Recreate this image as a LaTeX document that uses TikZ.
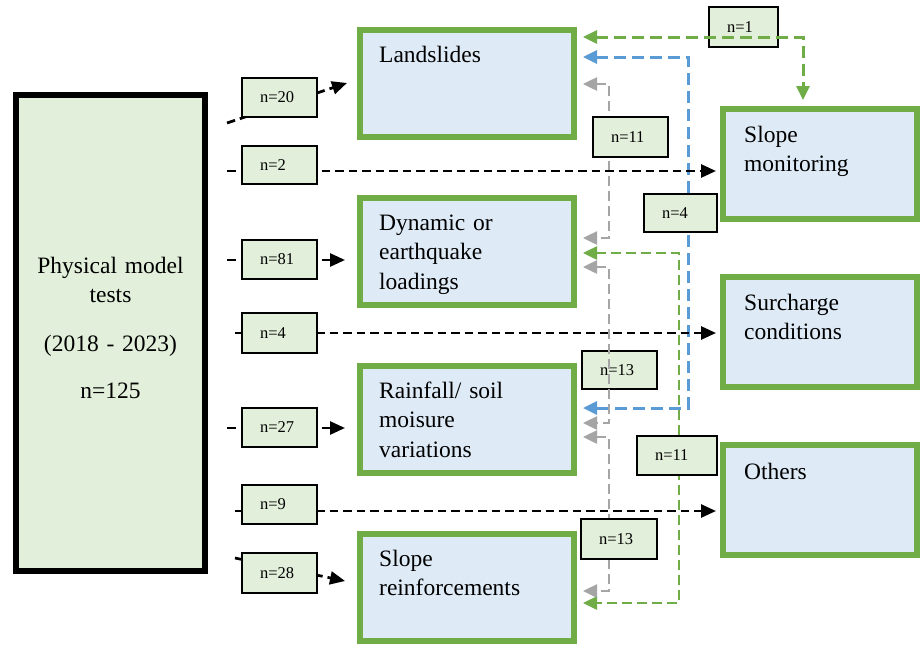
\documentclass[tikz,border=0pt]{standalone}
\usepackage{fontspec}
\setmainfont{Liberation Serif}
\usetikzlibrary{arrows.meta,calc}
\definecolor{lgreen}{HTML}{E2EFDA}
\definecolor{lblue}{HTML}{DEEBF7}
\definecolor{bgreen}{HTML}{70AD47}
\definecolor{cblue}{HTML}{5B9BD5}
\definecolor{cgray}{HTML}{A5A5A5}
\begin{document}
\begin{tikzpicture}[x=1pt,y=-1pt,
  bigfont/.style={font=\fontsize{23.5}{29.5}\selectfont},
  srcbox/.style={draw=black, line width=6pt, fill=lgreen, minimum width=189pt, minimum height=476pt, inner sep=0pt},
  topicbox/.style={draw=bgreen, line width=6pt, fill=lblue, minimum width=214pt, minimum height=107pt, inner sep=0pt},
  sidebox/.style={draw=bgreen, line width=6pt, fill=lblue, minimum width=194pt, minimum height=110pt, inner sep=0pt},
  boxtext/.style={bigfont, anchor=base west, text width=185pt, align=left, inner sep=0pt},
  cnt/.style={draw=black, line width=1.5pt, fill=lgreen, font=\fontsize{16.5}{19}\selectfont, align=left, inner xsep=18pt, inner ysep=0pt},
  blackarrow/.style={line width=2.7pt, dash pattern=on 8.5pt off 5pt, -{Triangle[length=15pt,width=13pt]}},
  bothtips/.style={{Triangle[length=14pt,width=13pt]}-{Triangle[length=14pt,width=13pt]}},
  greenthick/.style={bothtips, draw=bgreen, line width=3pt, dash pattern=on 11.5pt off 6.5pt},
  bluethick/.style={bothtips, draw=cblue, line width=3pt, dash pattern=on 11.5pt off 6.5pt},
  greenthin/.style={bothtips, draw=bgreen, line width=2.5pt, dash pattern=on 9.5pt off 5.5pt},
  graythin/.style={bothtips, draw=cgray, line width=2.5pt, dash pattern=on 9.5pt off 5.5pt},
]
\fill[white] (0,0) rectangle (920,648);
\useasboundingbox (0,0) rectangle (920,648);

% main boxes
\node[srcbox] (src) at (110.5,333) {};
\node[bigfont, anchor=base, text width=180pt, align=center, inner sep=0pt] (srctext) at (110.5,273)
  {Physical model\\ tests\\[19pt] (2018 - 2023)\\[18pt] n=125};

\node[topicbox] (land) at (467,83.5) {};
\node[topicbox] (dyn) at (467,251.5) {};
\node[topicbox] (rain) at (467,419.5) {};
\node[topicbox] (sr) at (467,587.5) {};
\node[sidebox] (mon) at (820,164) {};
\node[sidebox] (sur) at (820,332) {};
\node[sidebox] (oth) at (820,500) {};

\node[boxtext] (landtext) at (379,62) {Landslides};
\node[boxtext] (dyntext) at (379,230) {Dynamic or\\ earthquake\\ loadings};
\node[boxtext] (raintext) at (379,398) {Rainfall/ soil\\ moisure\\ variations};
\node[boxtext] (srtext) at (379,566) {Slope\\ reinforcements};
\node[boxtext, text width=165pt] (montext) at (744,142) {Slope\\ monitoring};
\node[boxtext, text width=165pt] (surtext) at (744,310) {Surcharge\\ conditions};
\node[boxtext, text width=165pt] (othtext) at (744,479) {Others};

% label under the green line
\node[cnt, text width=33pt, minimum height=40pt] (n1) at (743.5,27) {n=1};

% coloured two-way connectors
\draw[greenthick] ($(land.east|-0,37)+(6,0)$) -| ($(mon.north-|803,0)+(0,-6)$);
\draw[bluethick] ($(land.east|-0,57)+(6,0)$) -| (688,408) -- ($(rain.east|-0,408)+(6,0)$);
\draw[graythin] ($(land.east|-0,84)+(6,0)$) -| (609,238) -- ($(dyn.east|-0,238)+(6,0)$);
\draw[greenthin] ($(dyn.east|-0,253)+(6,0)$) -| (679,603) -- ($(sr.east|-0,603)+(6,0)$);
\draw[graythin] ($(rain.east|-0,437)+(6,0)$) -| (609,591) -- ($(sr.east|-0,591)+(6,0)$);

% black connectors
\coordinate (s20) at (227,123);
\coordinate (t20) at (347,83);
\coordinate (s2) at (227,171);
\coordinate (s81) at (227,260);
\coordinate (s4) at (235,333);
\coordinate (s27) at (227,428);
\coordinate (s9) at (235,511);
\coordinate (s28) at (235,558);
\coordinate (t28) at (345,581);
\draw[blackarrow] (s20) -- (t20);
\draw[blackarrow, shorten >=4pt] (s2) -- (s2 -| mon.west);
\draw[blackarrow, shorten >=12pt] (s81) -- (s81 -| dyn.west);
\draw[blackarrow, shorten >=4pt] (s4) -- (s4 -| sur.west);
\draw[blackarrow, shorten >=12pt] (s27) -- (s27 -| rain.west);
\draw[blackarrow, shorten >=4pt] (s9) -- (s9 -| oth.west);
\draw[blackarrow] (s28) -- (t28);

% count labels
\node[cnt, text width=39pt, minimum height=39pt] (n20) at (279.5,97.5) {n=20};
\node[cnt, text width=39pt, minimum height=38pt] (n2) at (279.5,165) {n=2};
\node[cnt, text width=39pt, minimum height=39pt] (n81) at (279.5,259.5) {n=81};
\node[cnt, text width=39pt, minimum height=40pt] (n4a) at (279.5,333) {n=4};
\node[cnt, text width=39pt, minimum height=39pt] (n27) at (279.5,427.5) {n=27};
\node[cnt, text width=39pt, minimum height=39pt] (n9) at (279.5,504.5) {n=9};
\node[cnt, text width=39pt, minimum height=40pt] (n28) at (279.5,573) {n=28};
\node[cnt, text width=39pt, minimum height=40pt] (n11a) at (630.5,137) {n=11};
\node[cnt, text width=37pt, minimum height=38pt] (n4b) at (680.5,213) {n=4};
\node[cnt, text width=39pt, minimum height=38pt] (n13a) at (619.5,370) {n=13};
\node[cnt, text width=44pt, minimum height=39pt] (n11b) at (677,455.5) {n=11};
\node[cnt, text width=40pt, minimum height=40pt] (n13b) at (619,539) {n=13};

% gray connector drawn over its label
\draw[graythin] ($(dyn.east|-0,267)+(6,0)$) -| (609,423) -- ($(rain.east|-0,423)+(6,0)$);
\end{tikzpicture}
\end{document}
